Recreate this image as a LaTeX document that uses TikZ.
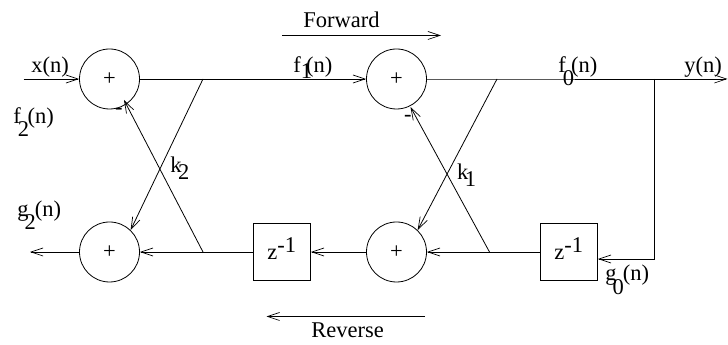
\documentclass[tikz,border=0pt]{standalone}
\usepackage{xcolor}
\usepackage{fontspec}
\setmainfont{Liberation Serif}
\usetikzlibrary{arrows.meta,positioning}
\newcommand{\lowdigit}[2][13pt]{\raisebox{-#1}{#2}}

\begin{document}
\begin{tikzpicture}[
  x=1pt,y=1pt,
  on grid,
  font=\fontsize{22.5}{24}\selectfont,
  line width=0.8pt,
  adder/.style={draw,circle,minimum size=60pt,inner sep=0pt},
  delay/.style={draw,minimum size=57.5pt,inner sep=0pt,text height=15pt,text depth=0pt},
  lbl/.style={anchor=base west,inner sep=0pt},
  arrow/.style={-{Straight Barb[length=12pt,width=8pt,line width=0.7pt]}}
]
  \useasboundingbox (0,0) rectangle (728,345);

  % upper row
  \node[adder] (add2) at (109.5,266) {+};
  \node[adder, right=287pt of add2] (add1) {+};
  \coordinate[left=86pt of add2] (in);
  \coordinate[right=93.5pt of add2] (split2);
  \coordinate[right=100.5pt of add1] (split1);
  \coordinate[right=258pt of add1] (tap);
  \coordinate[right=331pt of add1] (out);
  \coordinate[below=180pt of tap] (corner);

  % lower row
  \node[adder, below=173pt of add2] (sum2) {+};
  \node[adder, right=287pt of sum2] (sum1) {+};
  \node[delay, right=172.25pt of sum2] (delay2) {z\raisebox{7pt}{-1}};
  \node[delay, right=172.25pt of sum1] (delay1) {z\raisebox{7pt}{-1}};
  \coordinate[left=79.5pt of sum2] (back);
  \coordinate[right=93.5pt of sum2] (join2);
  \coordinate[right=93pt of sum1] (join1);

  % lattice arms
  \coordinate[below right=21pt and 14.5pt of add2] (tip2);
  \coordinate[below right=28pt and 14pt of add1] (tip1);
  \draw[arrow] (in) -- (add2.west);
  \draw (add2.east) -- (split2);
  \draw[arrow] (split2) -- (add1.west);
  \draw (add1.east) -- (split1) -- (tap);
  \draw[arrow] (tap) -- (out);
  \draw (tap) -- (corner);
  \draw[arrow] (corner) -- (corner -| delay1.east);
  \draw (delay1.west) -- (join1);
  \draw[arrow] (join1) -- (sum1.east);
  \draw[arrow] (sum1.west) -- (delay2.east);
  \draw (delay2.west) -- (join2);
  \draw[arrow] (join2) -- (sum2.east);
  \draw[arrow] (sum2.west) -- (back);
  \draw[arrow] (join2) -- (tip2);
  \draw[arrow] (split2) -- (sum2.46);
  \draw[arrow] (join1) -- (tip1);
  \draw[arrow] (split1) -- (sum1.46);

  % direction marks
  \coordinate (fwdA) at (282,309.5);
  \coordinate[right=159pt of fwdA] (fwdB);
  \coordinate (revA) at (425,28.5);
  \coordinate[left=158.5pt of revA] (revB);
  \draw[arrow] (fwdA) -- (fwdB);
  \draw[arrow] (revA) -- (revB);
  \node[lbl] (fwd) at (303,317) {Forward};
  \node[lbl] (rev) at (311,7) {Reverse};

  % signal labels
  \node[lbl] (xn) at (31,272.3) {x(n)};
  \node[lbl] (yn) at (684,272.3) {y(n)};
  \node[lbl] (f1) at (293,272.3) {f\lowdigit[6pt]{1}\kern-6pt(n)};
  \node[lbl] (f0) at (558,272.3) {f\kern-3pt\lowdigit{0}\kern-3pt(n)};
  \node[lbl] (f2) at (13,221.7) {f\kern-3pt\lowdigit{2}\kern-1.5pt(n)};
  \node[lbl] (g2) at (17,128) {g\kern-4pt\lowdigit{2}\kern-1pt(n)};
  \node[lbl] (g0) at (605,64.3) {g\kern-4pt\lowdigit[14pt]{0}\kern-1pt(n)};
  \node[lbl] (k2) at (170,172.3) {k\kern-3.5pt\lowdigit[7pt]{2}};
  \node[lbl] (k1) at (456.7,165.7) {k\kern-3.5pt\lowdigit[7pt]{1}};
  \node[lbl] (neg2) at (114.7,230) {-};
  \node[lbl] (neg1) at (403.7,223.5) {-};
\end{tikzpicture}
\end{document}
